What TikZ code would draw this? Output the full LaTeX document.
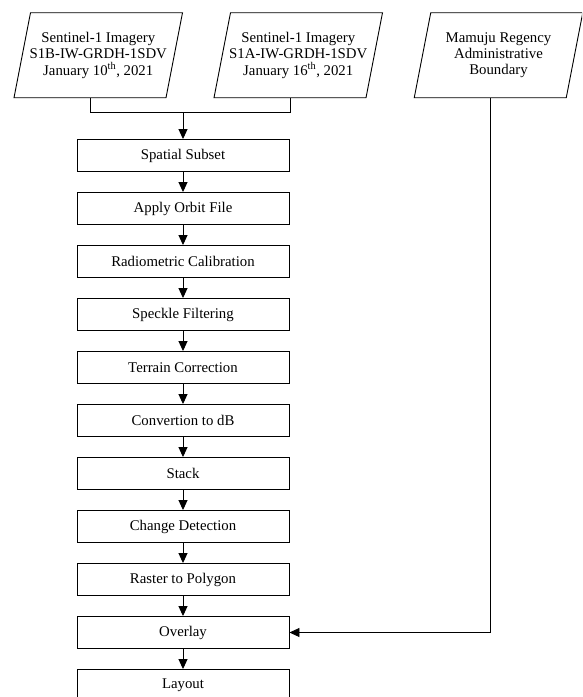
\documentclass[tikz,border=0pt]{standalone}
\usepackage{fontspec}
\setmainfont{Liberation Serif}
\usetikzlibrary{arrows.meta,calc}
\begin{document}
\begin{tikzpicture}[x=1pt,y=-1pt,
  line width=0.9pt,
  txt/.style={font=\fontsize{14.8}{16.4}\selectfont},
  stepbox/.style={txt, draw, minimum width=212pt, minimum height=32pt, inner sep=0pt},
  datatext/.style={txt, minimum width=152pt, minimum height=85pt, inner sep=0pt, align=center},
  flow/.style={-{Triangle[length=10pt,width=9pt]}},
]
\useasboundingbox (0,0) rectangle (582,697);
\clip (0,0) rectangle (582,697);

% input parallelograms
\node[datatext] (p1) at (98.25,55.25) {Sentinel-1 Imagery\\S1B-IW-GRDH-1SDV\\January 10\textsuperscript{th}, 2021};
\node[datatext] (p2) at (298.25,55.25) {Sentinel-1 Imagery\\S1A-IW-GRDH-1SDV\\January 16\textsuperscript{th}, 2021};
\node[datatext] (p3) at (498.5,55.25) {Mamuju Regency\\Administrative\\Boundary};
\foreach \p in {p1,p2,p3}{
  \draw ($(\p.center)+(-84.25,42.5)$) -- ($(\p.center)+(67.75,42.5)$)
     -- ($(\p.center)+(84.25,-42.5)$) -- ($(\p.center)+(-67.75,-42.5)$) -- cycle;
  \coordinate (\p b) at ($(\p.center)+(-8.25,42.5)$);
}

% process steps
\node[stepbox] (s1)  at (183,155.5) {Spatial Subset};
\node[stepbox] (s2)  at (183,208.5) {Apply Orbit File};
\node[stepbox] (s3)  at (183,261.5) {Radiometric Calibration};
\node[stepbox] (s4)  at (183,314.5) {Speckle Filtering};
\node[stepbox] (s5)  at (183,367.5) {Terrain Correction};
\node[stepbox] (s6)  at (183,420.5) {Convertion to dB};
\node[stepbox] (s7)  at (183,473.5) {Stack};
\node[stepbox] (s8)  at (183,526.5) {Change Detection};
\node[stepbox] (s9)  at (183,579.5) {Raster to Polygon};
\node[stepbox] (s10) at (183,632.5) {Overlay};
\node[stepbox] (s11) at (183,685.5) {Layout};

% connectors
\path (s1.north) ++(0,-26.5) coordinate (merge);
\draw (p1b) |- (merge) -| (p2b);
\draw[flow] (merge) -- (s1.north);
\foreach \a/\b in {s1/s2,s2/s3,s3/s4,s4/s5,s5/s6,s6/s7,s7/s8,s8/s9,s9/s10,s10/s11}{
  \draw[flow] (\a.south) -- (\b.north);
}
\draw[flow] (p3b) |- (s10.east);
\end{tikzpicture}
\end{document}
